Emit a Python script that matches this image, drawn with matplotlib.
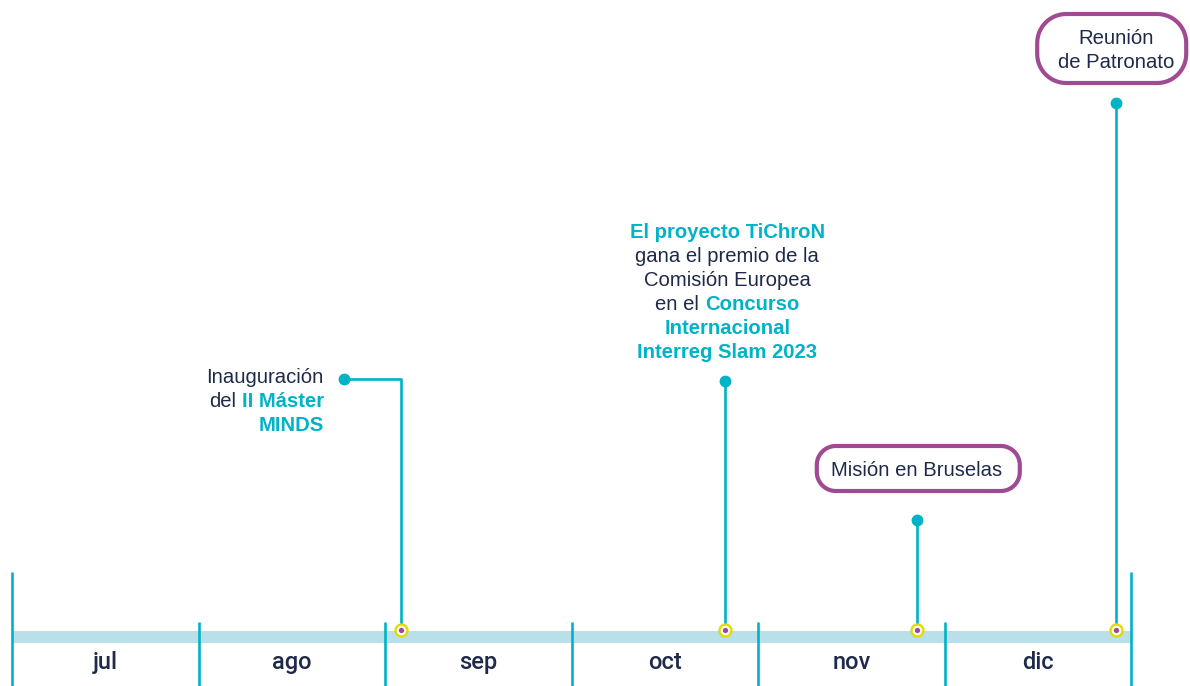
import numpy as np
import matplotlib
matplotlib.use('Agg')
import matplotlib.pyplot as plt
import matplotlib.transforms as mtransforms
from matplotlib.patches import Polygon

months = ['jul', 'ago', 'sep', 'oct', 'nov', 'dic']
month_days = [31, 31, 30, 31, 30, 31]

event_month = ['sep', 'oct', 'nov', 'dic']
event_day = [3, 26, 26, 29]

# event labels, line by line, as (text, highlighted) pieces
event_text = [
    [[('Inauguración', False)],
     [('del', False), ('II Máster', True)],
     [('MINDS', True)]],
    [[('El proyecto TiChroN', True)],
     [('gana el premio de la', False)],
     [('Comisión Europea', False)],
     [('en el', False), ('Concurso', True)],
     [('Internacional', True)],
     [('Interreg Slam 2023', True)]],
    [[('Misión en Bruselas', False)]],
    [[('Reunión', False)], [('de Patronato', False)]],
]

teal = '#00b3c7'
navy = '#1f2a4a'
purple = '#a04a93'
yellow = '#e2da00'
band = '#b9dfe9'
FONT = 'Liberation Sans'
FS = 14.6

fig = plt.figure(figsize=(11.9, 6.86), dpi=100)
ax = fig.add_axes([0, 0, 1, 1])
x0, x1 = -0.066, 6.315
ax.set_xlim(x0, x1)
ax.set_ylim(686, 0)
ax.axis('off')
ppm = 1190 / (x1 - x0)  # pixels per month
renderer = fig.canvas.get_renderer()


def text_w(s, bold):
    t = ax.text(0, 0, s, fontsize=FS, family=FONT,
                fontweight='bold' if bold else 'normal')
    w = t.get_window_extent(renderer).width
    t.remove()
    return w


def put_line(x, y, parts, ha):
    sp = text_w('a a', False) - text_w('aa', False)
    widths = [text_w(s, b) for s, b in parts]
    total = sum(widths) + sp * (len(parts) - 1)
    off = {'left': 0, 'center': -total / 2, 'right': -total}[ha]
    for (s, b), w in zip(parts, widths):
        tr = mtransforms.offset_copy(ax.transData, fig=fig, x=off, y=0, units='dots')
        ax.text(x, y, s, transform=tr, fontsize=FS, family=FONT,
                fontweight='bold' if b else 'normal',
                color=teal if b else navy, ha='left', va='baseline', zorder=5)
        off += w + sp


def pill(xc, yc, w, h, r):
    # rounded rectangle with circular corners, sizes in pixels
    t = np.linspace(0, np.pi / 2, 20)
    pts = []
    for cx, cy, a0 in [(w / 2 - r, h / 2 - r, 0), (-w / 2 + r, h / 2 - r, np.pi / 2),
                       (-w / 2 + r, -h / 2 + r, np.pi), (w / 2 - r, -h / 2 + r, 1.5 * np.pi)]:
        pts += list(zip(cx + r * np.cos(t + a0), cy + r * np.sin(t + a0)))
    pts = np.array(pts)
    xy = np.column_stack([xc + pts[:, 0] / ppm, yc + pts[:, 1]])
    ax.add_patch(Polygon(xy, closed=True, fc='white', ec=purple, lw=3.0, zorder=4))


# time band and month dividers
ax.fill_between([0, len(months)], 631, 643, color=band, lw=0, zorder=1)
for i in range(len(months) + 1):
    top = 572 if i in (0, len(months)) else 622
    ax.plot([i, i], [top, 686], color=teal, lw=1.9, solid_capstyle='butt', zorder=2)
for i, m in enumerate(months):
    ax.text(i + 0.5, 669, m, ha='center', va='baseline', fontsize=17,
            color=navy, family='Roboto', fontweight='medium')

ev_x = []
for m, d in zip(event_month, event_day):
    k = months.index(m)
    ev_x.append(k + (d - 0.5) / month_days[k])

# stems
stem_top = [379, 381, 520, 103]
dot_dx = [-57, 0, 0, 0]
for x, top, dx in zip(ev_x, stem_top, dot_dx):
    xd = x + dx / ppm
    ax.plot([xd, x, x], [top, top, 630], color=teal, lw=1.9, zorder=3)
    ax.plot(xd, top, 'o', ms=7.5, color=teal, zorder=3)
    ax.plot(x, 630, 'o', ms=8.6, mfc='white', mec=yellow, mew=1.7, zorder=6)
    ax.plot(x, 630, 'o', ms=3.8, color=purple, mew=0, zorder=7)

# labels
LS = 24
# sep: right-aligned to the left of the dot
for j, line in enumerate(event_text[0]):
    put_line(ev_x[0] - 77 / ppm, 383 + j * LS, line, 'right')
# oct: centred block above the dot
for j, line in enumerate(event_text[1]):
    put_line(ev_x[1] + 2 / ppm, 238 + j * LS, line, 'center')
# nov: pill box
pill(ev_x[2] + 1.5 / ppm, 468.5, 203, 45, 19)
for j, line in enumerate(event_text[2]):
    put_line(ev_x[2], 475.5 + j * LS, line, 'center')
# dic: pill box with two lines
pill(ev_x[3] - 4.5 / ppm, 48.5, 149, 69, 29)
for j, line in enumerate(event_text[3]):
    put_line(ev_x[3], 44 + j * LS, line, 'center')

fig.savefig('out.png', dpi=100)
